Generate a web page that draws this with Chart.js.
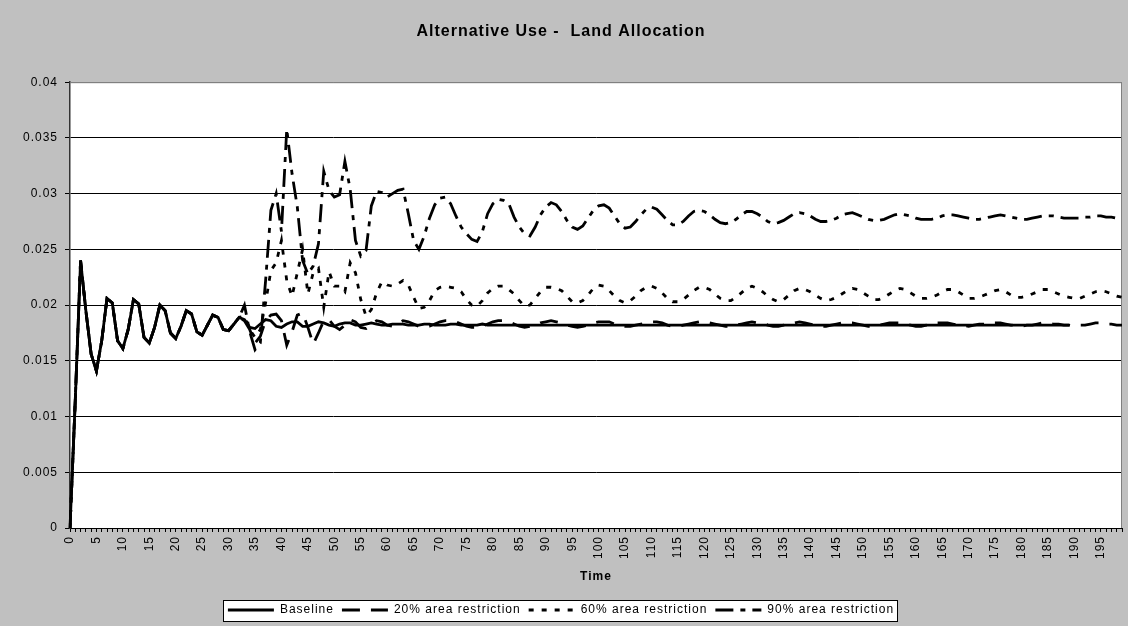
<!DOCTYPE html>
<html lang="en">
<head>
<meta charset="UTF-8">
<title>Alternative Use - Land Allocation</title>
<style>
  html, body { margin: 0; padding: 0; background: #c0c0c0; }
  #wrap { width: 1128px; height: 626px; }
</style>
</head>
<body>
<div id="wrap"><canvas id="chart" width="1128" height="626"></canvas></div>
<script src="https://cdn.jsdelivr.net/npm/chart.js@4"></script>
<script>
// time steps 0..199 (category axis)
const timeSteps = [];
for (let t = 0; t < 200; t++) timeSteps.push(String(t));

// all four runs coincide until the restriction kicks in (t = 0..32)
const startup = [
  0, 0.0115, 0.024, 0.0195, 0.0156, 0.0141, 0.0168, 0.0206, 0.0202, 0.0168,
  0.0161, 0.0178, 0.0205, 0.0201, 0.0171, 0.0166, 0.0180, 0.0200, 0.0195, 0.0175,
  0.0170, 0.0181, 0.0195, 0.0192, 0.0176, 0.0173, 0.0182, 0.0191, 0.0189, 0.0178,
  0.0177, 0.0183, 0.0189
];

// t = 33..199
const baseline = startup.concat([
  0.0187, 0.0180, 0.0179, 0.0183, 0.0187, 0.0186, 0.0181,
  0.0180, 0.0183, 0.0185, 0.0185, 0.0181, 0.0181, 0.0183, 0.0185, 0.0184, 0.0182,
  0.0181, 0.0183, 0.0184, 0.0184, 0.0182, 0.0182, 0.0183, 0.0184, 0.0183, 0.0182,
  0.0182, 0.0183, 0.0183, 0.0183, 0.0182, 0.0182, 0.0182, 0.0183, 0.0183, 0.0182,
  0.0182, 0.0182, 0.0183, 0.0183, 0.0182, 0.0182, 0.0182, 0.0182, 0.0183, 0.0182,
  0.0182, 0.0182, 0.0182, 0.0182, 0.0182, 0.0182, 0.0182, 0.0182, 0.0182, 0.0182,
  0.0182, 0.0182, 0.0182, 0.0182, 0.0182, 0.0182, 0.0182, 0.0182, 0.0182, 0.0182,
  0.0182, 0.0182, 0.0182, 0.0182, 0.0182, 0.0182, 0.0182, 0.0182, 0.0182, 0.0182,
  0.0182, 0.0182, 0.0182, 0.0182, 0.0182, 0.0182, 0.0182, 0.0182, 0.0182, 0.0182,
  0.0182, 0.0182, 0.0182, 0.0182, 0.0182, 0.0182, 0.0182, 0.0182, 0.0182, 0.0182,
  0.0182, 0.0182, 0.0182, 0.0182, 0.0182, 0.0182, 0.0182, 0.0182, 0.0182, 0.0182,
  0.0182, 0.0182, 0.0182, 0.0182, 0.0182, 0.0182, 0.0182, 0.0182, 0.0182, 0.0182,
  0.0182, 0.0182, 0.0182, 0.0182, 0.0182, 0.0182, 0.0182, 0.0182, 0.0182, 0.0182,
  0.0182, 0.0182, 0.0182, 0.0182, 0.0182, 0.0182, 0.0182, 0.0182, 0.0182, 0.0182,
  0.0182, 0.0182, 0.0182, 0.0182, 0.0182, 0.0182, 0.0182, 0.0182, 0.0182, 0.0182,
  0.0182, 0.0182, 0.0182, 0.0182, 0.0182, 0.0182, 0.0182, 0.0182, 0.0182, 0.0182
]);

const restrict20 = startup.concat([
  0.0186, 0.0178, 0.0166, 0.0172, 0.0186, 0.0191, 0.0192,
  0.0186, 0.0164, 0.0176, 0.0191, 0.0193, 0.0180, 0.0165, 0.0175, 0.0186, 0.0187,
  0.0181, 0.0178, 0.0182, 0.0187, 0.0185, 0.0180, 0.0179, 0.0183, 0.0186, 0.0185,
  0.0182, 0.0181, 0.0183, 0.0186, 0.0185, 0.0183, 0.0181, 0.0180, 0.0181, 0.0183,
  0.0185, 0.0186, 0.0186, 0.0185, 0.0183, 0.0181, 0.0180, 0.0180, 0.0181, 0.0183,
  0.0185, 0.0186, 0.0186, 0.0185, 0.0183, 0.0181, 0.0180, 0.0181, 0.0182, 0.0184,
  0.0185, 0.0186, 0.0185, 0.0184, 0.0182, 0.0181, 0.0180, 0.0181, 0.0182, 0.0184,
  0.0185, 0.0185, 0.0185, 0.0183, 0.0182, 0.0181, 0.0181, 0.0182, 0.0183, 0.0184,
  0.0185, 0.0185, 0.0184, 0.0182, 0.0181, 0.0181, 0.0182, 0.0183, 0.0184, 0.0185,
  0.0185, 0.0184, 0.0183, 0.0182, 0.0181, 0.0181, 0.0182, 0.0183, 0.0184, 0.0185,
  0.0184, 0.0184, 0.0182, 0.0181, 0.0181, 0.0182, 0.0183, 0.0184, 0.0185, 0.0184,
  0.0183, 0.0182, 0.0181, 0.0181, 0.0182, 0.0183, 0.0184, 0.0184, 0.0184, 0.0183,
  0.0182, 0.0181, 0.0181, 0.0182, 0.0183, 0.0184, 0.0184, 0.0184, 0.0183, 0.0182,
  0.0181, 0.0181, 0.0182, 0.0183, 0.0184, 0.0184, 0.0184, 0.0183, 0.0182, 0.0182,
  0.0181, 0.0182, 0.0183, 0.0183, 0.0184, 0.0184, 0.0184, 0.0183, 0.0182, 0.0182,
  0.0181, 0.0182, 0.0182, 0.0183, 0.0184, 0.0184, 0.0183, 0.0183, 0.0182, 0.0182,
  0.0181, 0.0182, 0.0182, 0.0183, 0.0184, 0.0184, 0.0183, 0.0183, 0.0182, 0.0182
]);

const restrict60 = startup.concat([
  0.0190, 0.0178, 0.0171, 0.0178, 0.0202, 0.0231, 0.0238,
  0.0258, 0.0222, 0.0208, 0.0229, 0.0250, 0.0210, 0.0229, 0.0233, 0.0198, 0.0230,
  0.0217, 0.0217, 0.0212, 0.0238, 0.0229, 0.0205, 0.0190, 0.0196, 0.0211, 0.0221,
  0.0218, 0.0217, 0.0219, 0.0222, 0.0218, 0.0207, 0.0197, 0.0198, 0.0204, 0.0213,
  0.0216, 0.0217, 0.0216, 0.0215, 0.0212, 0.0205, 0.0200, 0.0199, 0.0204, 0.0211,
  0.0215, 0.0217, 0.0217, 0.0214, 0.0210, 0.0204, 0.0199, 0.0200, 0.0206, 0.0212,
  0.0216, 0.0216, 0.0215, 0.0213, 0.0208, 0.0203, 0.0202, 0.0204, 0.0209, 0.0215,
  0.0218, 0.0217, 0.0213, 0.0208, 0.0204, 0.0202, 0.0204, 0.0208, 0.0213, 0.0216,
  0.0217, 0.0215, 0.0211, 0.0206, 0.0203, 0.0203, 0.0205, 0.0209, 0.0213, 0.0216,
  0.0216, 0.0214, 0.0210, 0.0206, 0.0204, 0.0204, 0.0207, 0.0211, 0.0215, 0.0217,
  0.0215, 0.0212, 0.0208, 0.0205, 0.0203, 0.0205, 0.0209, 0.0213, 0.0215, 0.0214,
  0.0212, 0.0209, 0.0206, 0.0204, 0.0205, 0.0207, 0.0210, 0.0213, 0.0215, 0.0214,
  0.0211, 0.0208, 0.0205, 0.0205, 0.0207, 0.0210, 0.0213, 0.0215, 0.0214, 0.0211,
  0.0208, 0.0206, 0.0206, 0.0207, 0.0209, 0.0212, 0.0214, 0.0214, 0.0212, 0.0209,
  0.0206, 0.0206, 0.0207, 0.0209, 0.0211, 0.0213, 0.0214, 0.0212, 0.0209, 0.0207,
  0.0207, 0.0208, 0.0210, 0.0212, 0.0214, 0.0214, 0.0212, 0.0210, 0.0208, 0.0207,
  0.0206, 0.0206, 0.0208, 0.0210, 0.0212, 0.0213, 0.0212, 0.0210, 0.0208, 0.0207
]);

const restrict90 = startup.concat([
  0.0200, 0.0176, 0.0160, 0.0166, 0.0222, 0.0285, 0.0300,
  0.0266, 0.0358, 0.0318, 0.0288, 0.0240, 0.0228, 0.0235, 0.0255, 0.0320, 0.0303,
  0.0297, 0.0299, 0.0329, 0.0304, 0.0258, 0.0244, 0.0249, 0.0289, 0.0302, 0.0301,
  0.0297, 0.0300, 0.0303, 0.0304, 0.0282, 0.0258, 0.0250, 0.0262, 0.0278, 0.0290,
  0.0296, 0.0297, 0.0291, 0.0280, 0.0270, 0.0264, 0.0259, 0.0257, 0.0266, 0.0282,
  0.0291, 0.0295, 0.0294, 0.0291, 0.0279, 0.0270, 0.0264, 0.0262, 0.0270, 0.0281,
  0.0288, 0.0292, 0.0290, 0.0284, 0.0276, 0.0270, 0.0268, 0.0271, 0.0278, 0.0285,
  0.0289, 0.0290, 0.0287, 0.0280, 0.0273, 0.0269, 0.0270, 0.0275, 0.0281, 0.0286,
  0.0288, 0.0286, 0.0281, 0.0276, 0.0272, 0.0272, 0.0275, 0.0280, 0.0284, 0.0285,
  0.0284, 0.0281, 0.0277, 0.0274, 0.0273, 0.0274, 0.0277, 0.0281, 0.0284, 0.0284,
  0.0282, 0.0279, 0.0275, 0.0273, 0.0274, 0.0276, 0.0279, 0.0282, 0.0283, 0.0282,
  0.0280, 0.0277, 0.0275, 0.0275, 0.0276, 0.0278, 0.0281, 0.0282, 0.0283, 0.0281,
  0.0279, 0.0277, 0.0276, 0.0276, 0.0277, 0.0279, 0.0281, 0.0282, 0.0281, 0.0280,
  0.0278, 0.0277, 0.0277, 0.0277, 0.0278, 0.0280, 0.0281, 0.0281, 0.0280, 0.0279,
  0.0278, 0.0277, 0.0277, 0.0278, 0.0279, 0.0280, 0.0281, 0.0280, 0.0279, 0.0278,
  0.0277, 0.0277, 0.0278, 0.0279, 0.0280, 0.0280, 0.0280, 0.0279, 0.0278, 0.0278,
  0.0278, 0.0278, 0.0279, 0.0279, 0.0280, 0.0280, 0.0279, 0.0279, 0.0278, 0.0278
]);

const seriesNames = ['Baseline', '20% area restriction', '60% area restriction', '90% area restriction'];
const seriesData = [baseline, restrict20, restrict60, restrict90];
const seriesDash = [[], [18, 11], [5, 8], [18, 7, 5, 7]];
const lineW = 2.8;

Chart.defaults.font.family = '"Liberation Sans", Arial, sans-serif';
Chart.defaults.color = '#000';

// the old office renderer spaces its glyphs a bit wider
const wideText = {
  id: 'wideText',
  beforeLayout(chart) { chart.ctx.letterSpacing = '1px'; },
  beforeDraw(chart) { chart.ctx.letterSpacing = '1px'; }
};

// grey chart background, white plot area, framed legend
const chartBackground = {
  id: 'chartBackground',
  beforeDraw(chart) {
    const { ctx, chartArea: a, legend } = chart;
    ctx.save();
    ctx.fillStyle = '#c0c0c0';
    ctx.fillRect(0, 0, chart.width, chart.height);
    ctx.fillStyle = '#ffffff';
    ctx.fillRect(a.left, a.top, a.right - a.left, a.bottom - a.top);
    const boxes = legend && legend.legendHitBoxes;
    if (boxes && boxes.length) {
      const l = Math.round(Math.min(...boxes.map(b => b.left)) - 5);
      const r = Math.round(Math.max(...boxes.map(b => b.left + b.width)) + 3);
      const t = Math.round(boxes[0].top - 4);
      const h = Math.round(boxes[0].height + 9);
      ctx.fillRect(l, t, r - l, h);
      ctx.strokeStyle = '#000';
      ctx.lineWidth = 1;
      ctx.strokeRect(l + 0.5, t + 0.5, r - l, h);
    }
    ctx.restore();
  },
  beforeDatasetsDraw(chart) {
    // grey frame on top and right side of the plot area
    const { ctx, chartArea: a } = chart;
    ctx.save();
    ctx.strokeStyle = '#808080';
    ctx.lineWidth = 1;
    ctx.beginPath();
    ctx.moveTo(a.left, a.top + 0.5);
    ctx.lineTo(a.right - 0.5, a.top + 0.5);
    ctx.lineTo(a.right - 0.5, a.bottom);
    ctx.stroke();
    ctx.restore();
  }
};

new Chart(document.getElementById('chart'), {
  type: 'line',
  data: {
    labels: timeSteps,
    datasets: seriesNames.map((name, i) => ({
      label: name,
      data: seriesData[i],
      borderColor: '#000',
      backgroundColor: '#000',
      borderWidth: lineW,
      borderDash: seriesDash[i],
      pointRadius: 0,
      tension: 0,
      fill: false
    }))
  },
  options: {
    responsive: false,
    animation: false,
    layout: { padding: { left: 0, right: 6, top: 0, bottom: 0 } },
    plugins: {
      title: {
        display: true,
        text: 'Alternative Use -  Land Allocation',
        color: '#000',
        font: { size: 16, weight: 'bold' },
        padding: { top: 22, bottom: 41 }
      },
      legend: {
        position: 'bottom',
        labels: {
          usePointStyle: true,
          pointStyle: 'line',
          pointStyleWidth: 46,
          color: '#000',
          font: { size: 12 },
          padding: 8,
          generateLabels: chart =>
            Chart.defaults.plugins.legend.labels.generateLabels(chart).map(item =>
              Object.assign(item, {
                lineDash: seriesDash[item.datasetIndex],
                lineWidth: lineW,
                strokeStyle: '#000',
                fillStyle: '#000'
              }))
        }
      },
      tooltip: { enabled: false }
    },
    scales: {
      x: {
        grid: { drawOnChartArea: false, drawTicks: true, tickLength: 4, tickColor: '#000' },
        border: { color: '#000', width: 1 },
        ticks: {
          autoSkip: false,
          maxRotation: 90,
          minRotation: 90,
          padding: 4,
          color: '#000',
          font: { size: 12 },
          callback: (v, i) => (i % 5 === 0 ? timeSteps[i] : '')
        },
        title: {
          display: true,
          text: 'Time',
          color: '#000',
          font: { size: 12, weight: 'bold' },
          padding: { top: 2, bottom: 12 }
        },
        afterFit: s => { s.height = 68; s.paddingLeft = 0; s.paddingRight = 0; }
      },
      y: {
        min: 0,
        max: 0.04,
        ticks: {
          stepSize: 0.005,
          padding: 7,
          color: '#000',
          font: { size: 12 },
          callback: v => String(Number(v.toFixed(3)))
        },
        grid: {
          color: c => (c.tick && c.tick.value >= 0.0399 ? '#808080' : '#000'),
          lineWidth: 1,
          tickLength: 5,
          tickColor: '#000'
        },
        border: { color: '#333', width: 1.5 },
        afterFit: s => { s.width = 70; }
      }
    }
  },
  plugins: [wideText, chartBackground]
});
</script>
</body>
</html>
